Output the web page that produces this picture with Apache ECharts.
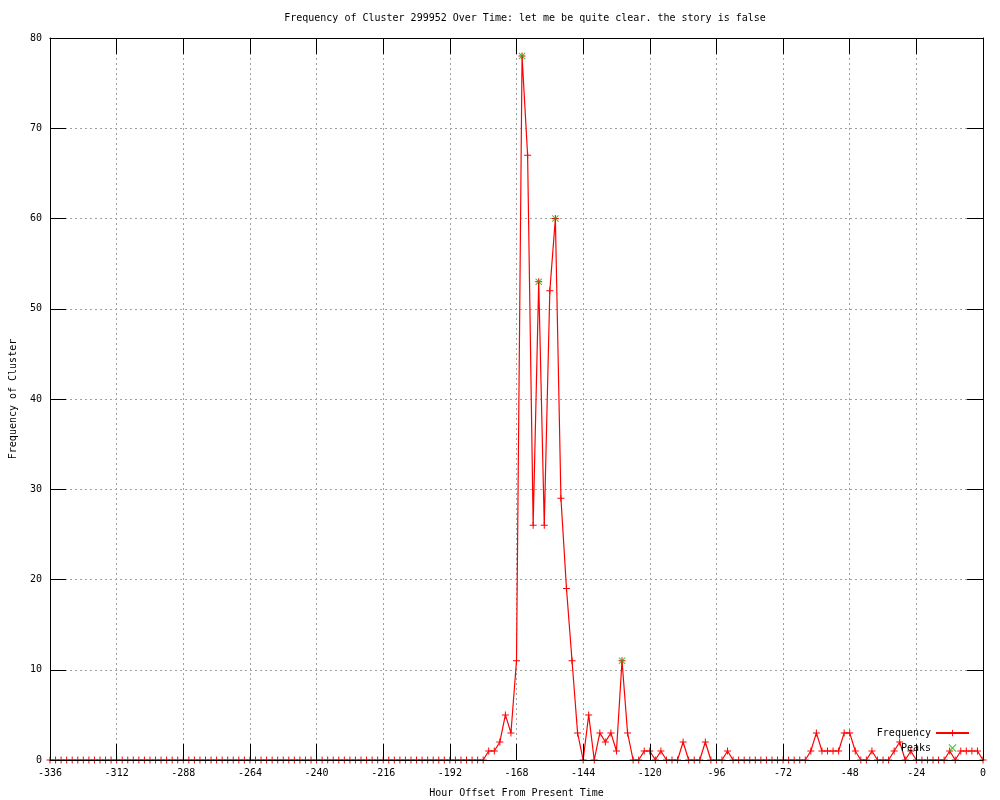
<!DOCTYPE html>
<html>
<head>
<meta charset="utf-8">
<script src="https://cdn.jsdelivr.net/npm/echarts@6/dist/echarts.min.js"></script>
<style>html,body{margin:0;padding:0;background:#fff}#c{width:1000px;height:800px}</style>
</head>
<body>
<div id="c"></div>
<script>
const titleText = 'Frequency of Cluster 299952 Over Time: let me be quite clear. the story is false';
const xName = 'Hour Offset From Present Time';
const yName = 'Frequency of Cluster';

const hours = [
-336,-334,-332,-330,-328,-326,-324,-322,-320,-318,-316,-314,-312,-310,-308,-306,-304,-302,-300,-298,
-296,-294,-292,-290,-288,-286,-284,-282,-280,-278,-276,-274,-272,-270,-268,-266,-264,-262,-260,-258,
-256,-254,-252,-250,-248,-246,-244,-242,-240,-238,-236,-234,-232,-230,-228,-226,-224,-222,-220,-218,
-216,-214,-212,-210,-208,-206,-204,-202,-200,-198,-196,-194,-192,-190,-188,-186,-184,-182,-180,-178,
-176,-174,-172,-170,-168,-166,-164,-162,-160,-158,-156,-154,-152,-150,-148,-146,-144,-142,-140,-138,
-136,-134,-132,-130,-128,-126,-124,-122,-120,-118,-116,-114,-112,-110,-108,-106,-104,-102,-100,-98,
-96,-94,-92,-90,-88,-86,-84,-82,-80,-78,-76,-74,-72,-70,-68,-66,-64,-62,-60,-58,
-56,-54,-52,-50,-48,-46,-44,-42,-40,-38,-36,-34,-32,-30,-28,-26,-24,-22,-20,-18,
-16,-14,-12,-10,-8,-6,-4,-2,0
];

const frequency = [
0,0,0,0,0,0,0,0,0,0,0,0,0,0,0,0,0,0,0,0,
0,0,0,0,0,0,0,0,0,0,0,0,0,0,0,0,0,0,0,0,
0,0,0,0,0,0,0,0,0,0,0,0,0,0,0,0,0,0,0,0,
0,0,0,0,0,0,0,0,0,0,0,0,0,0,0,0,0,0,0,1,
1,2,5,3,11,78,67,26,53,26,52,60,29,19,11,3,0,5,0,3,
2,3,1,11,3,0,0,1,1,0,1,0,0,0,2,0,0,0,2,0,
0,0,1,0,0,0,0,0,0,0,0,0,0,0,0,0,0,1,3,1,
1,1,1,3,3,1,0,0,1,0,0,0,1,2,0,1,0,0,0,0,
0,0,1,0,1,1,1,1,0
];

const peakHours = [-166, -160, -154, -130];
const peakValues = [78, 53, 60, 11];

const xTicks = { min: -336, max: 0, interval: 24 };
const yTicks = { min: 0, max: 80, interval: 10 };

const FONT = 'DejaVu Sans Mono';
const plusPath = 'path://M3,0h1v3h3v1h-3v3h-1v-3h-3v-1h3z';
const xPath = 'path://M0,0.7L0.7,0L7,6.3L6.3,7Z M6.3,0L7,0.7L0.7,7L0,6.3Z';

const freqData = hours.map((h, i) => [h, frequency[i]]);
const peakData = peakHours.map((h, i) => [h, peakValues[i]]);

const chart = echarts.init(document.getElementById('c'), null, { renderer: 'canvas' });

const gridLine = { show: true, lineStyle: { color: '#a0a0a0', width: 1, type: [2, 3] } };

chart.setOption({
  animation: false,
  backgroundColor: '#ffffff',
  grid: { left: 50, right: 17, top: 38, bottom: 40, show: false, containLabel: false, outerBoundsMode: 'none' },
  graphic: [
    { type: 'text', x: 525, y: 18, z: 10,
      style: { text: titleText, font: '10px ' + FONT, fill: '#000', textAlign: 'center', textVerticalAlign: 'middle' } }
  ],
  legend: {
    data: [{ name: 'Frequency' }, { name: 'Peaks' }],
    orient: 'vertical', align: 'right',
    right: 30, top: 728,
    itemWidth: 33, itemHeight: 8, itemGap: 5, padding: 0,
    textStyle: { fontFamily: FONT, fontSize: 10, color: '#000', padding: [0, 0, 0, 0] }
  },
  xAxis: [
    {
      type: 'value', position: 'bottom', min: xTicks.min, max: xTicks.max, interval: xTicks.interval,
      z: 5,
      name: xName, nameLocation: 'middle', nameGap: 28,
      nameTextStyle: { fontFamily: FONT, fontSize: 10, color: '#000' },
      axisLine: { show: true, onZero: false, lineStyle: { color: '#000', width: 1 } },
      axisTick: { show: true, inside: true, length: 16, lineStyle: { color: '#000' } },
      axisLabel: { show: true, margin: 8, fontFamily: FONT, fontSize: 10, color: '#000', showMinLabel: true, showMaxLabel: true },
      splitLine: { show: false }
    },
    {
      type: 'value', position: 'top', min: xTicks.min, max: xTicks.max, interval: xTicks.interval,
      z: 0,
      axisLine: { show: true, onZero: false, lineStyle: { color: '#000', width: 1 } },
      axisTick: { show: true, inside: true, length: 16, lineStyle: { color: '#000' } },
      axisLabel: { show: false },
      splitLine: gridLine
    }
  ],
  yAxis: [
    {
      type: 'value', position: 'left', min: yTicks.min, max: yTicks.max, interval: yTicks.interval,
      z: 5,
      name: yName, nameLocation: 'middle', nameGap: 32, nameRotate: 90,
      nameTextStyle: { fontFamily: FONT, fontSize: 10, color: '#000' },
      axisLine: { show: true, onZero: false, lineStyle: { color: '#000', width: 1 } },
      axisTick: { show: true, inside: true, length: 16, lineStyle: { color: '#000' } },
      axisLabel: { show: true, margin: 8, fontFamily: FONT, fontSize: 10, color: '#000' },
      splitLine: { show: false }
    },
    {
      type: 'value', position: 'right', min: yTicks.min, max: yTicks.max, interval: yTicks.interval,
      z: 0,
      axisLine: { show: true, onZero: false, lineStyle: { color: '#000', width: 1 } },
      axisTick: { show: true, inside: true, length: 16, lineStyle: { color: '#000' } },
      axisLabel: { show: false },
      splitLine: gridLine
    }
  ],
  series: [
    {
      name: 'Frequency', type: 'line', xAxisIndex: 0, yAxisIndex: 0,
      data: freqData, z: 2,
      showSymbol: true, showAllSymbol: true,
      symbol: plusPath, symbolSize: 7,
      lineStyle: { color: '#ff0000', width: 1.2 },
      itemStyle: { color: '#ff0000', borderWidth: 0 },
      emphasis: { disabled: true }
    },
    {
      name: 'Peaks', type: 'scatter', xAxisIndex: 0, yAxisIndex: 0,
      data: peakData, z: 3,
      symbol: xPath, symbolSize: 7,
      itemStyle: { color: '#00c000', borderWidth: 0 },
      emphasis: { disabled: true }
    }
  ]
});
</script>
</body>
</html>
